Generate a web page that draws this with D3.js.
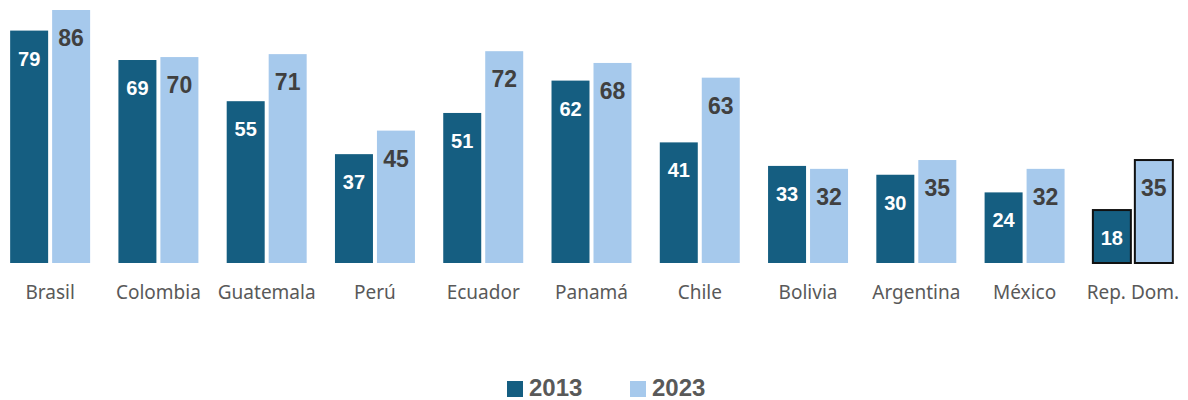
<!DOCTYPE html>
<html>
<head>
<meta charset="utf-8">
<script src="https://cdn.jsdelivr.net/npm/d3@7/dist/d3.min.js"></script>
<style>
  html, body { margin: 0; padding: 0; background: #fff; }
  svg { display: block; }
</style>
</head>
<body>
<svg id="chart" width="1188" height="400"></svg>
<script>
const categories = ["Brasil", "Colombia", "Guatemala", "Perú", "Ecuador", "Panamá", "Chile", "Bolivia", "Argentina", "México", "Rep. Dom."];
const values2013 = [79, 69, 55, 37, 51, 62, 41, 33, 30, 24, 18];
const values2023 = [86, 70, 71, 45, 72, 68, 63, 32, 35, 32, 35];
const seriesNames = ["2013", "2023"];
const highlighted = ["Rep. Dom."];

const colors = { "2013": "#155E81", "2023": "#A6C9EC" };

const svg = d3.select("#chart");
const baseline = 263;

const x0 = d3.scaleBand().domain(categories).range([-4, 1187]).padding(0);
const x1 = d3.scaleBand().domain(seriesNames).range([0, x0.bandwidth()])
  .paddingInner(0.095).paddingOuter(0.337);
const y = d3.scaleLinear().domain([0, 89.4]).range([baseline, 0]);

const rows = categories.map((c, i) => ({
  cat: c,
  vals: [
    { key: "2013", value: values2013[i] },
    { key: "2023", value: values2023[i] }
  ]
}));

const groups = svg.append("g").selectAll("g")
  .data(rows).join("g")
  .attr("transform", d => `translate(${x0(d.cat)},0)`);

groups.selectAll("rect")
  .data(d => d.vals.map(v => ({ ...v, cat: d.cat })))
  .join("rect")
  .attr("x", d => x1(d.key))
  .attr("y", d => y(d.value))
  .attr("width", x1.bandwidth())
  .attr("height", d => y(0) - y(d.value))
  .attr("fill", d => colors[d.key])
  .attr("stroke", d => highlighted.includes(d.cat) ? "#111" : "none")
  .attr("stroke-width", 2);

groups.selectAll("text.val")
  .data(d => d.vals)
  .join("text")
  .attr("class", "val")
  .attr("x", d => x1(d.key) + x1.bandwidth() / 2)
  .attr("y", d => y(d.value) + 28)
  .attr("text-anchor", "middle")
  .attr("dominant-baseline", "central")
  .attr("font-family", "Liberation Sans, Arial, sans-serif")
  .attr("font-weight", "bold")
  .attr("font-size", d => d.key === "2013" ? "20px" : "23px")
  .attr("fill", d => d.key === "2013" ? "#ffffff" : "#404040")
  .text(d => d.value);

// category axis labels
const xAxis = d3.axisBottom(x0).tickSize(0).tickPadding(0);
const axisG = svg.append("g").attr("transform", `translate(0,${baseline})`).call(xAxis);
axisG.select(".domain").remove();
axisG.selectAll("text")
  .attr("y", 29)
  .attr("dy", "0.35em")
  .attr("font-family", "Noto Sans, Open Sans, sans-serif")
  .attr("font-size", "19px")
  .attr("fill", "#595959");

// legend
const legendItems = [
  { key: "2013", x: 507 },
  { key: "2023", x: 630 }
];
const legend = svg.append("g");
legendItems.forEach(it => {
  legend.append("rect")
    .attr("x", it.x).attr("y", 381)
    .attr("width", 16).attr("height", 16)
    .attr("fill", colors[it.key]);
  legend.append("text")
    .attr("x", it.x + 22).attr("y", 387)
    .attr("dominant-baseline", "central")
    .attr("font-family", "Liberation Sans, Arial, sans-serif")
    .attr("font-weight", "bold")
    .attr("font-size", "24px")
    .attr("fill", "#595959")
    .text(it.key);
});
</script>
</body>
</html>
